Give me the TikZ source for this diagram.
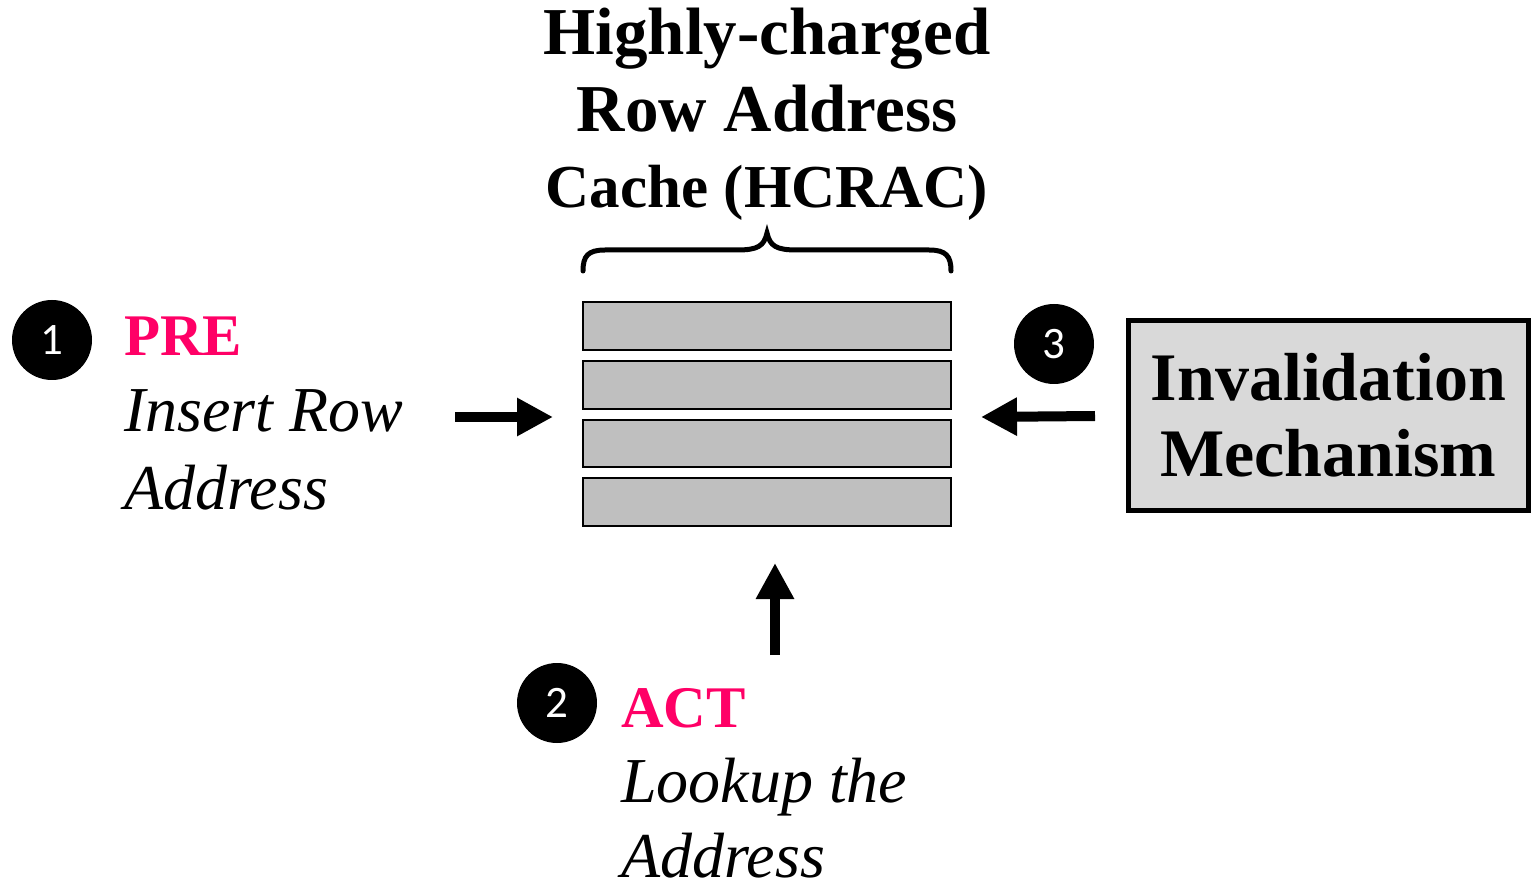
\documentclass[tikz,border=0pt]{standalone}
\usepackage{fontspec}
\setmainfont{Liberation Serif}
\newfontfamily\numfont{Carlito}
\usetikzlibrary{arrows.meta}
\definecolor{pinkc}{HTML}{FF0066}
\definecolor{rowgray}{HTML}{BFBFBF}
\definecolor{boxgray}{HTML}{D9D9D9}
\tikzset{
  numcirc/.style={circle, fill=black, minimum size=80pt, inner sep=0pt, text=white, font=\numfont\fontsize{45}{45}\selectfont},
  titletxt/.style={anchor=base, inner sep=0pt, font=\bfseries\fontsize{67}{77}\selectfont},
  cmdtxt/.style={anchor=base west, inner sep=0pt, text=pinkc, font=\bfseries\fontsize{59}{59}\selectfont},
  desctxt/.style={anchor=base west, inner sep=0pt, font=\itshape\fontsize{64}{64}\selectfont},
  rowbox/.style={draw=black, line width=2.5pt, fill=rowgray},
  bigarrow/.style={line width=10pt, -{Triangle[length=36pt,width=36pt]}},
}
\begin{document}
\begin{tikzpicture}[x=1pt,y=-1pt]
\useasboundingbox (0,0) rectangle (1532,882);
% title
\node[titletxt] (t1) at (767,55) {Highly-charged};
\node[titletxt] (t2) at (767,132) {Row Address};
\node[titletxt, font=\bfseries\fontsize{61}{77}\selectfont] (t3) at (767,208) {Cache (HCRAC)};
% brace
\draw[line width=5pt, line cap=round] (583,271) .. controls (583,256) and (588,250) .. (605,250) -- (737,250) .. controls (758,250) and (764,246) .. (767,233) .. controls (770,246) and (776,250) .. (797,250) -- (929,250) .. controls (946,250) and (951,256) .. (951,271);
% rows
\draw[rowbox] (583,302) rectangle (951,350);
\draw[rowbox] (583,361) rectangle (951,409);
\draw[rowbox] (583,420) rectangle (951,467);
\draw[rowbox] (583,478) rectangle (951,526);
\coordinate (cacheL) at (553,417);
\coordinate (cacheR) at (981,417);
\coordinate (cacheB) at (775,563);
% step 1
\node[numcirc] (c1) at (52,340) {1};
\node[cmdtxt] (pre) at (124,356) {PRE};
\node[desctxt] (d1a) at (124,432) {Insert Row};
\node[desctxt] (d1b) at (124,509) {Address};
\coordinate (a1s) at (455,417);
\draw[bigarrow] (a1s) -- (cacheL);
% step 2
\node[numcirc] (c2) at (557,703) {2};
\node[cmdtxt] (act) at (621,727) {ACT};
\node[desctxt] (d2a) at (621,802) {Lookup the};
\node[desctxt] (d2b) at (621,877) {Address};
\coordinate (a2s) at (775,655);
\draw[bigarrow] (a2s) -- (cacheB);
% step 3
\node[numcirc] (c3) at (1054,344) {3};
\node[draw=black, line width=5pt, fill=boxgray, minimum width=400pt, minimum height=190pt, inner sep=0pt, align=center, font=\bfseries\fontsize{68}{76}\selectfont] (inv) at (1328.5,415.5) {Invalidation\\Mechanism};
\coordinate (a3s) at (1095,416);
\draw[bigarrow] (a3s) -- (cacheR);
\end{tikzpicture}
\end{document}
